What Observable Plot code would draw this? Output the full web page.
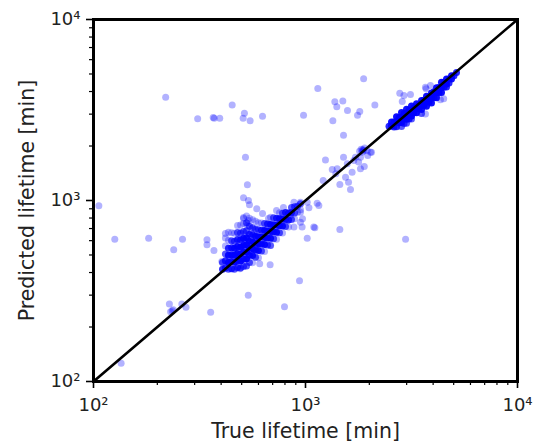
<!DOCTYPE html>
<html><head><meta charset="utf-8">
<script src="https://cdn.jsdelivr.net/npm/d3@7"></script>
<script src="https://cdn.jsdelivr.net/npm/@observablehq/plot@0.6"></script>
<style>
html,body{margin:0;padding:0;background:#fff;}
#chart svg{font-family:"DejaVu Sans",sans-serif;}
</style></head><body><div id="chart"></div>
<script>
// Individual (sparse) points: [true, predicted]
const scatterPoints = [
 [106,935],[135,126],[126,611],[182,619],[219,3724],[239,535],[263,611],[310,2826],[367,2870],[371,2850],
 [394,2850],[451,3375],[515,3030],[508,2850],[548,2755],[627,2925],[521,1734],[532,1222],[510,1035],[538,1000],
 [544,946],[589,899],[1143,4160],[1880,4700],[2124,3375],[1375,3510],[1500,3550],[1405,3295],[1578,3140],[1803,3100],
 [1760,2960],[1346,2755],[979,2960],[1511,2296],[1242,1672],[1511,1734],
 [228,268],[261,268],[273,257],[231,243],[238,249],[235,246],[357,241],[537,300],[796,259],[937,360],
 [681,442],[608,447],[490,420],[2965,611],[1452,692],[1107,707],[1019,619],[343,607],[343,569],[370,529],[403,460],
 [882,979],[947,979],[1019,979],[1135,967],[1156,938],[947,861],[1038,911],[849,826],[820,776],[947,759],
 [964,713],[1094,713],[882,713],[968,792],
 [1337,1482],[1411,1496],[1390,1404],[1452,1225],[1630,1151],[1596,1262],[1545,1346],[1659,1433],[1817,1496],[1893,1541],
 [1690,1664],[1817,1734],[1859,1905],[1955,1890],[2048,1849],[1212,1290],[1574,1597],[1721,1734],[1780,1630],[1966,1775],
 [2026,1849],[1800,1870],[1830,1920],[1870,1900],[1900,1950],[1850,1850],[1880,1880],
 [2784,3917],[2912,3802],[2860,3524],[3127,3852],[3706,4141],[3680,3010],[4331,3599],[4486,3646],[3680,4227],[3886,4318],
 [510,795],[538,775],[532,728],[627,847],[669,795],[730,881],[787,914],[419,657]
];
// Dense cluster around 400-950 min: [true, predicted, overlapping count]
const lowerCore = [
 [406,417,5],[406,455,3],
 [433,417,3],[433,455,10],[433,498,8],[433,544,5],[433,603,1],[433,667,1],
 [462,417,3],[462,456,10],[462,498,10],[462,545,8],[462,596,3],[462,660,1],
 [494,424,3],[494,463,10],[494,507,12],[494,554,10],[494,606,5],[494,662,3],[494,733,1],
 [527,435,3],[527,476,10],[527,520,12],[527,569,12],[527,622,8],[527,680,3],[527,753,3],[527,822,1],
 [563,453,1],[563,496,8],[563,542,12],[563,592,12],[563,647,5],[563,708,3],[563,784,1],
 [600,483,1],[600,529,8],[600,577,12],[600,631,10],[600,690,3],[600,754,1],
 [641,523,1],[641,572,8],[641,625,12],[641,683,10],[641,747,3],
 [684,565,3],[684,618,8],[684,675,12],[684,738,8],[684,807,1],
 [730,611,1],[730,668,8],[730,730,10],[730,798,5],
 [779,661,1],[779,722,8],[779,789,8],[779,851,3],
 [832,714,1],[832,780,5],[832,854,5],
 [888,792,1],[888,854,3],[888,923,3],
 [947,888,1],[947,959,3],
 [419,424,5],[419,464,5],[419,507,3],[419,561,1],[419,621,1],
 [448,420,5],[448,460,8],[448,502,8],[448,549,5],[448,600,3],[448,664,1],
 [478,426,5],[478,466,8],[478,510,10],[478,557,8],[478,608,5],[478,665,3],[478,727,1],
 [510,432,3],[510,473,8],[510,517,10],[510,565,10],[510,617,8],[510,675,3],[510,747,1],[510,806,1],
 [544,455,3],[544,498,8],[544,544,10],[544,595,10],[544,650,5],[544,720,3],[544,797,1],
 [581,486,3],[581,532,8],[581,581,10],[581,635,8],[581,694,3],[581,769,1],
 [620,526,3],[620,575,8],[620,628,10],[620,686,5],[620,750,1],
 [662,568,3],[662,621,8],[662,679,10],[662,742,5],
 [707,614,3],[707,672,8],[707,735,8],[707,803,3],
 [754,664,3],[754,725,8],[754,793,8],[754,857,1],
 [805,718,3],[805,785,5],[805,858,5],
 [859,786,3],[859,859,5],[859,916,3],
 [917,860,1],[917,929,3]
];
// Dense cluster around 2500-5200 min: [true, predicted, overlapping count]
const upperCore = [
 [2477,2574,5],
 [2545,2713,8],[2545,2578,8],
 [2616,2718,5],[2616,2551,5],
 [2687,2899,8],[2687,2722,10],[2687,2553,5],
 [2761,2869,8],[2761,2692,8],
 [2837,3061,8],[2837,2874,10],[2837,2696,8],[2837,2562,3],
 [2915,3029,8],[2915,2842,8],[2915,2667,3],
 [2996,3194,8],[2996,2996,12],[2996,2810,10],[2996,2672,3],
 [3078,3158,8],[3078,2961,8],[3078,2816,5],
 [3162,3326,8],[3162,3121,12],[3162,2931,10],[3162,2821,3],
 [3250,3250,8],[3250,3049,8],
 [3339,3426,8],[3339,3212,12],[3339,3055,8],
 [3431,3386,8],[3431,3218,8],
 [3526,3572,8],[3526,3351,12],[3526,3184,8],[3526,3026,3],
 [3622,3575,8],[3622,3358,8],
 [3722,3770,8],[3722,3537,12],[3722,3320,8],
 [3824,3729,8],[3824,3499,8],
 [3929,3929,8],[3929,3685,12],[3929,3461,8],
 [4037,3984,8],[4037,3694,5],
 [4149,4203,8],[4149,3943,12],[4149,3701,8],
 [4264,4209,8],[4264,3953,8],
 [4380,4494,8],[4380,4214,12],[4380,3955,8],
 [4500,4500,8],[4500,4221,5],
 [4625,4685,8],[4625,4396,10],[4625,4232,5],
 [4753,4691,8],[4753,4458,5],
 [4883,4883,8],[4883,4698,8],
 [5017,4891,5],
 [5155,5090,5]
];
const majorTicks = [100, 1000, 10000];
const tickLabels = ["10\u00B2", "10\u00B3", "10\u2074"];
const minorTicks = [200,300,400,500,600,700,800,900,2000,3000,4000,5000,6000,7000,8000,9000];
const xLabel = "True lifetime [min]";
const yLabel = "Predicted lifetime [min]";
const identityLine = [100, 10000];

const pts = [
  ...scatterPoints.map(([x, y]) => ({x, y, n: 1})),
  ...lowerCore.map(([x, y, n]) => ({x, y, n})),
  ...upperCore.map(([x, y, n]) => ({x, y, n}))
];
const fmt = d => tickLabels[majorTicks.indexOf(d)];

const chart = Plot.plot({
  width: 540, height: 443,
  marginLeft: 93, marginRight: 23, marginTop: 19, marginBottom: 62,
  style: {fontFamily: "DejaVu Sans, sans-serif", fontSize: "16px", background: "white", color: "black", overflow: "visible"},
  x: {type: "log", domain: [100, 10000]},
  y: {type: "log", domain: [100, 10000]},
  marks: [
    Plot.dot(pts, {x: "x", y: "y", r: 3.5, fill: "#0000ff", fillOpacity: d => 1 - Math.pow(0.7, d.n), stroke: "none"}),
    Plot.line(identityLine, {x: d => d, y: d => d, stroke: "black", strokeWidth: 2.6}),
    Plot.axisX(minorTicks, {tickSize: 4, tickFormat: () => "", strokeWidth: 1.2, label: null}),
    Plot.axisX(majorTicks, {tickSize: 7, tickPadding: 10, tickFormat: fmt, fontSize: 18, strokeWidth: 1.6, label: null, fill: "#222"}),
    Plot.axisY(minorTicks, {tickSize: 4, tickFormat: () => "", strokeWidth: 1.2, label: null}),
    Plot.axisY(majorTicks, {tickSize: 7, tickPadding: 6, tickFormat: fmt, fontSize: 18, strokeWidth: 1.6, label: null, fill: "#222"}),
    Plot.frame({stroke: "black", strokeWidth: 3}),
    Plot.text([xLabel], {text: d => d, frameAnchor: "bottom", lineAnchor: "middle", textAnchor: "middle", dy: 50, fontSize: 20.5, fill: "#222"}),
    Plot.text([yLabel], {text: d => d, frameAnchor: "left", lineAnchor: "middle", textAnchor: "middle", dx: -66, rotate: -90, fontSize: 20.5, fill: "#222"})
  ]
});
document.getElementById("chart").appendChild(chart);
</script></body></html>
